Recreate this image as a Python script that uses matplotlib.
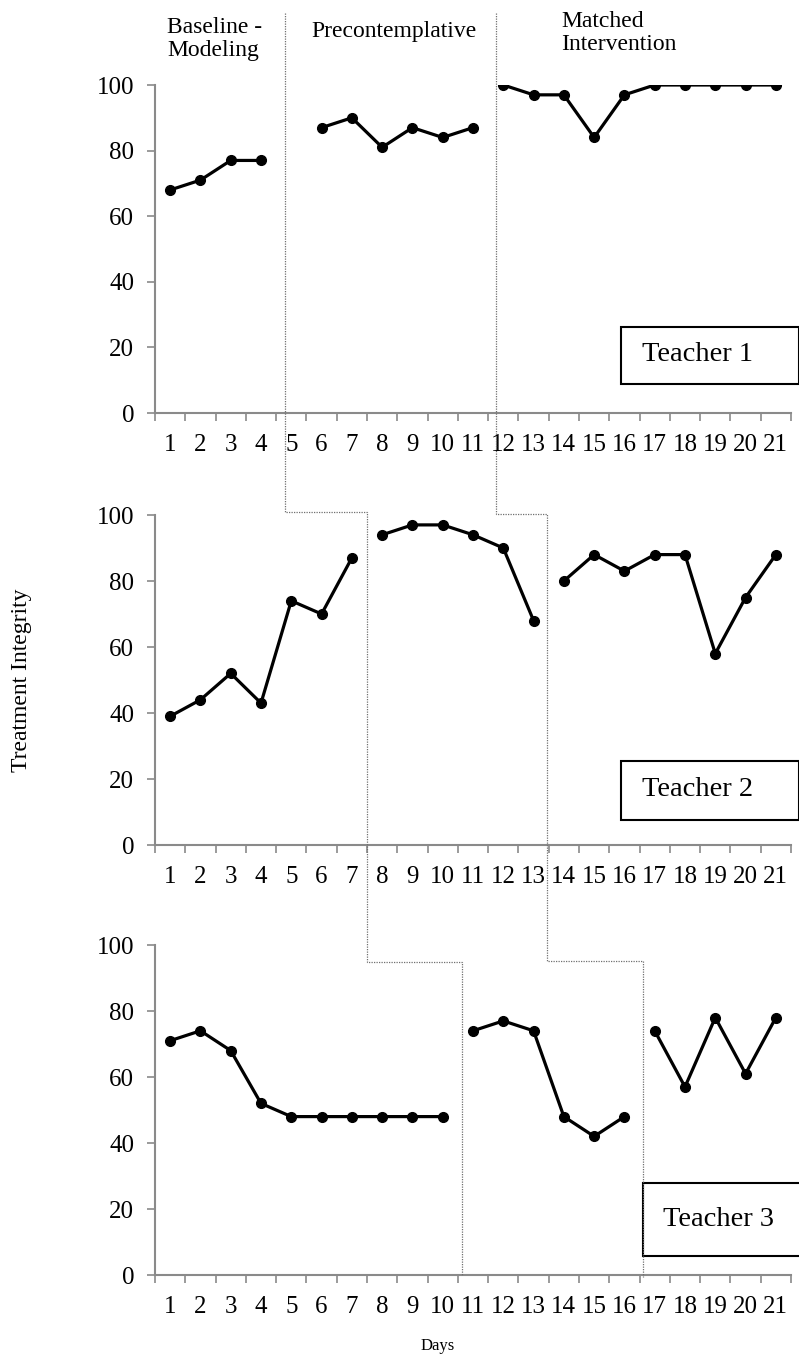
import numpy as np
import matplotlib
matplotlib.use('Agg')
import matplotlib.pyplot as plt
from matplotlib.lines import Line2D
from matplotlib.patches import Rectangle

plt.rcParams['font.family'] = ['Liberation Serif', 'DejaVu Serif']

days = list(range(1, 22))

# teacher 1 (day 5 has no session)
t1_base = [68, 71, 77, 77]
t1_pre = [87, 90, 81, 87, 84, 87]
t1_match = [100, 97, 97, 84, 97, 100, 100, 100, 100, 100]
t1_days = [list(range(1, 5)), list(range(6, 12)), list(range(12, 22))]

# teacher 2
t2_base = [39, 44, 52, 43, 74, 70, 87]
t2_pre = [94, 97, 97, 94, 90, 68]
t2_match = [80, 88, 83, 88, 88, 58, 75, 88]
t2_days = [list(range(1, 8)), list(range(8, 14)), list(range(14, 22))]

# teacher 3
t3_base = [71, 74, 68, 52, 48, 48, 48, 48, 48, 48]
t3_pre = [74, 77, 74, 48, 42, 48]
t3_match = [74, 57, 78, 61, 78]
t3_days = [list(range(1, 11)), list(range(11, 17)), list(range(17, 22))]

teachers = ['Teacher 1', 'Teacher 2', 'Teacher 3']
series = [[t1_base, t1_pre, t1_match], [t2_base, t2_pre, t2_match], [t3_base, t3_pre, t3_match]]
series_days = [t1_days, t2_days, t3_days]

# phase change lines: (panel, day, value)
phase_line1 = [(0, 4.79, 122), (1, 4.79, 101), (1, 7.5, 101), (2, 7.5, 94.7), (2, 10.64, 94.7), (2, 10.64, 0)]
phase_line2 = [(0, 11.76, 122), (1, 11.76, 100.4), (1, 13.45, 100.4), (2, 13.45, 95.1), (2, 16.6, 95.1), (2, 16.6, -0.5)]

phase_names = ['Baseline -\nModeling', 'Precontemplative', 'Matched\nIntervention']

fig = plt.figure(figsize=(7.99, 13.60), dpi=100)

gray = '#8a8a8a'
L, W = 155 / 799, 636 / 799
panel_px = [(85, 413), (515, 845), (945, 1275)]
# teacher box: x0, y0, w, h, text x, text y (axes fraction)
boxes = [(0.733, 0.088, 0.28, 0.174, 0.766, 0.177),
         (0.733, 0.076, 0.28, 0.18, 0.766, 0.167),
         (0.767, 0.058, 0.25, 0.221, 0.799, 0.167)]

axes = []
for i in range(3):
    top, bot = panel_px[i]
    ax = fig.add_axes([L, 1 - bot / 1360, W, (bot - top) / 1360])
    axes.append(ax)
    for d, vals in zip(series_days[i], series[i]):
        ax.plot(d, vals, color='black', lw=2.3, marker='o', markersize=7, zorder=3)
    ax.set_xlim(0.5, 21.5)
    ax.set_ylim(0, 100)
    ax.set_yticks([0, 20, 40, 60, 80, 100])
    ax.set_xticks(np.arange(0.5, 22, 1))
    ax.set_xticklabels([])
    ax.set_xticks(days, minor=True)
    ax.set_xticklabels([str(d) for d in days], minor=True)
    ax.tick_params(axis='x', which='major', direction='out', length=6, width=1.2, color=gray)
    ax.tick_params(axis='x', which='minor', length=0, labelsize=18, pad=15)
    ax.tick_params(axis='y', direction='out', length=6, width=1.2, color=gray, labelsize=18, pad=9)
    for s in ['top', 'right']:
        ax.spines[s].set_visible(False)
    for s in ['left', 'bottom']:
        ax.spines[s].set_color(gray)
        ax.spines[s].set_linewidth(1.5)
    bx, by, bw, bh, tx, ty = boxes[i]
    ax.add_patch(Rectangle((bx, by), bw, bh, transform=ax.transAxes, fill=True,
                           facecolor='white', edgecolor='black', lw=1.5, clip_on=False, zorder=4))
    ax.text(tx, ty, teachers[i], transform=ax.transAxes, fontsize=20.5, ha='left', va='center', zorder=5)

# draw the phase change lines across panels
inv = fig.transFigure.inverted()
for pl in [phase_line1, phase_line2]:
    pts = [inv.transform(axes[p].transData.transform((x, y))) for p, x, y in pl]
    xs = [p[0] for p in pts]
    ys = [p[1] for p in pts]
    fig.add_artist(Line2D(xs, ys, transform=fig.transFigure, color='#707070', lw=0.9,
                          linestyle=(0, (1, 1)), zorder=2))

# phase labels
fig.text(167 / 799, 1 - 17 / 1360, phase_names[0], fontsize=17, ha='left', va='top', linespacing=1.1)
fig.text(394 / 799, 1 - 32 / 1360, phase_names[1], fontsize=17, ha='center', va='center')
fig.text(561 / 799, 1 - 11 / 1360, phase_names[2], fontsize=17, ha='left', va='top', linespacing=1.1)

fig.text(22 / 799, 1 - 680 / 1360, 'Treatment Integrity', fontsize=17, rotation=90, ha='center', va='center')
fig.text(438 / 799, 1 - 1346 / 1360, 'Days', fontsize=12, ha='center', va='center')

fig.savefig('out.png', dpi=100)
